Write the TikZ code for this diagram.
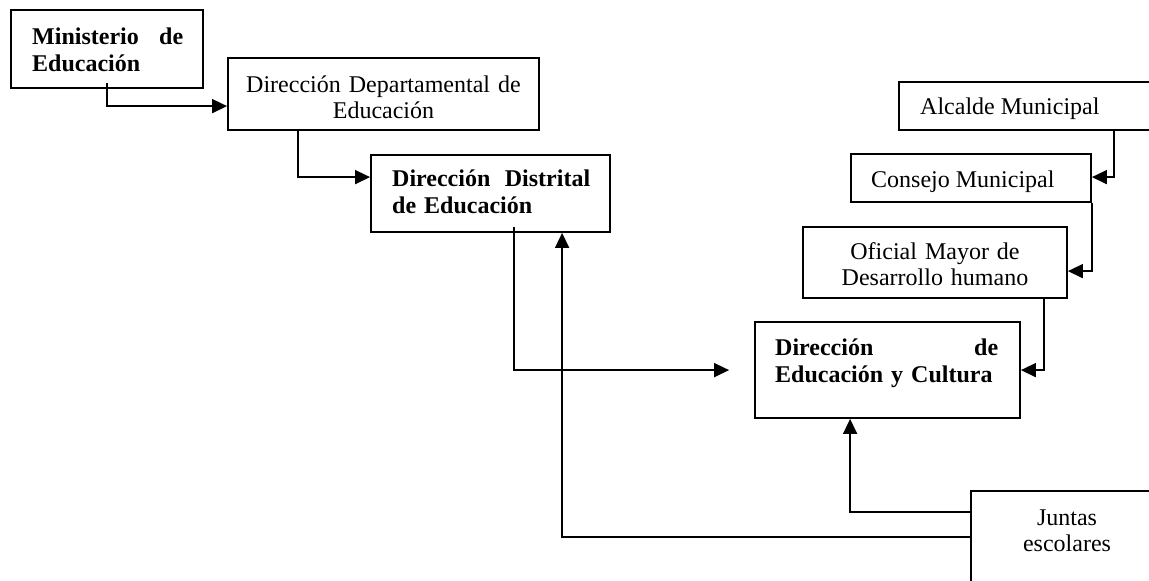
\documentclass[tikz,border=0pt]{standalone}
\usepackage{fontspec}
\setmainfont{Liberation Serif}
\usetikzlibrary{arrows.meta,calc}
\begin{document}
\begin{tikzpicture}[x=1pt,y=-1pt,
  box/.style={draw=black, line width=1.8pt, rectangle, inner sep=0pt},
  txt/.style={inner sep=0pt, font=\fontsize{24}{26.5}\selectfont},
  btxt/.style={inner sep=0pt, font=\fontsize{24}{27.5}\selectfont\bfseries},
  arr/.style={line width=1.6pt, -{Triangle[length=15pt,width=14pt]}},
  conn/.style={line width=1.6pt}]
\useasboundingbox (0,0) rectangle (1149,581);
\clip (0,0) rectangle (1149,581);
% boxes
\node[box, minimum width=192pt, minimum height=78pt] (min) at (107,49) {};
\node[box, minimum width=311pt, minimum height=72pt] (dept) at (383.5,94) {};
\node[box, minimum width=239pt, minimum height=77pt] (dist) at (490.5,193.5) {};
\node[box, minimum width=266pt, minimum height=48pt] (alc) at (1032,106) {};
\node[box, minimum width=240pt, minimum height=48pt] (con) at (971,178) {};
\node[box, minimum width=264pt, minimum height=71pt] (ofi) at (935,262.5) {};
\node[box, minimum width=265pt, minimum height=96pt] (dec) at (887.5,370) {};
\node[box, minimum width=192pt, minimum height=109pt] (jun) at (1067,545.5) {};
% texts
\node[btxt, anchor=base west, text width=151pt, align=left] (tmin) at (32,44)
  {\hbox to 151pt{Ministerio\hfill de}\\Educación};
\node[txt, anchor=base, text width=311pt, align=center] (tdept) at (383.5,92)
  {Dirección Departamental de\\Educación};
\node[btxt, anchor=base west, text width=198pt, align=left] (tdist) at (392,186)
  {\hbox to 198pt{Dirección\hfill Distrital}\\de Educación};
\node[txt, anchor=base west] (talc) at (920,114) {Alcalde Municipal};
\node[txt, anchor=base west] (tcon) at (871,187) {Consejo Municipal};
\node[txt, anchor=base, text width=264pt, align=center] (tofi) at (935,259)
  {Oficial Mayor de\\Desarrollo humano};
\node[btxt, anchor=base west, text width=223pt, align=left] (tdec) at (775,355)
  {\hbox to 223pt{Dirección\hfill de}\\Educación y Cultura};
\node[txt, anchor=base, text width=150pt, align=center] (tjun) at (1067,525)
  {Juntas\\escolares};
% connectors
\draw[arr] ($(min.south)+(0,-6)$) |- ($(dept.north west)+(0,49)$);
\draw[arr] ($(dept.south west)+(71,0)$) |- ($(dist.north west)+(0,23)$);
\coordinate (decin) at ($(dec.north west)+(-25,49)$);
\draw[arr] ($(dist.south west)+(144,-6)$) |- (decin);
\draw[arr] ($(jun.north west)+(0,22)$) -| ($(dec.south west)+(96,0)$);
\draw[arr] ($(jun.north west)+(0,47)$) -| ($(dist.south west)+(192,0)$);
\draw[arr] ($(alc.south west)+(216,0)$) |- ($(con.north east)+(0,24)$);
\draw[arr] (con.south east) |- ($(ofi.north east)+(0,45)$);
\draw[arr] ($(ofi.south east)+(-24,0)$) |- ($(dec.north east)+(0,49)$);
\end{tikzpicture}
\end{document}
